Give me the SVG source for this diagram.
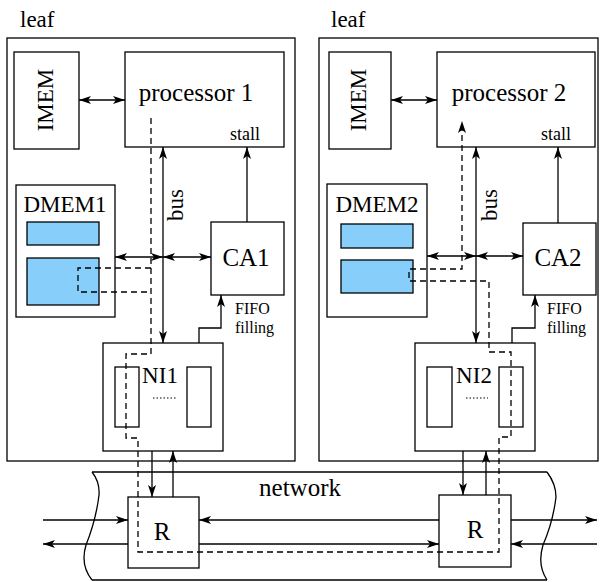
<svg xmlns="http://www.w3.org/2000/svg" width="603" height="582" viewBox="0 0 603 582" font-family="'Liberation Serif', 'DejaVu Serif', serif">
<style>
text{font-family:'Liberation Serif','DejaVu Serif',serif;fill:#000}
.box{fill:#fff;stroke:#000;stroke-width:1.3}
.mem{fill:#87cefa;stroke:#000;stroke-width:1.3}
.ln{fill:none;stroke:#000;stroke-width:1.3}
.dash{fill:none;stroke:#000;stroke-width:1.3;stroke-dasharray:6,4}
.dots{fill:none;stroke:#000;stroke-width:1;stroke-dasharray:1.5,2}
.big{font-size:25px}
.mid{font-size:23px}
.sm{font-size:18px}
.xs{font-size:16px}
</style>
<defs>
<marker id="ah" viewBox="0 0 12 8" refX="12" refY="4" markerWidth="12" markerHeight="8" orient="auto-start-reverse" markerUnits="userSpaceOnUse">
<path d="M0,0 L12,4 L0,8 L3,4 z" fill="#000"/>
</marker>
</defs>

<g id="leaf1">
<rect class="box" x="7" y="38" width="288" height="423"/>
<text x="20" y="27" class="mid">leaf</text>
</g>
<g id="leaf2">
<rect class="box" x="319" y="38" width="279" height="423"/>
<text x="331" y="27" class="mid">leaf</text>
</g>

<g id="network">
<path class="ln" d="M92,472 H547 M92,580 H547"/>
<path class="ln" d="M92,472 Q100,482 99,495 Q96,520 86,545 Q80,565 92,580"/>
<path class="ln" d="M547,472 Q556,484 556,497 Q553,522 543,545 Q537,565 547,580"/>
<text x="300" y="496" class="big" text-anchor="middle">network</text>
</g>

<g id="imem1">
<rect class="box" x="14" y="52" width="65" height="97"/>
<text transform="translate(53,100) rotate(-90)" class="mid" text-anchor="middle">IMEM</text>
</g>
<g id="processor1">
<rect class="box" x="125" y="52" width="159" height="95"/>
<text x="196" y="101" class="big" text-anchor="middle">processor 1</text>
<text x="245" y="140" class="sm" text-anchor="middle">stall</text>
</g>
<g id="dmem1">
<rect class="box" x="16" y="185" width="99" height="132"/>
<text x="65" y="212" class="mid" text-anchor="middle">DMEM1</text>
<rect class="mem" x="27" y="222" width="72" height="23"/>
<rect class="mem" x="27" y="258" width="72" height="47"/>
</g>
<g id="ca1">
<rect class="box" x="211" y="222" width="73" height="73"/>
<text x="246" y="266" class="big" text-anchor="middle">CA1</text>
</g>
<g id="ni1">
<rect class="box" x="103" y="343" width="120" height="108"/>
<rect class="box" x="115" y="367" width="24" height="60"/>
<rect class="box" x="187" y="367" width="24" height="60"/>
<text x="160" y="383" class="mid" text-anchor="middle">NI1</text>
<path class="dots" d="M153,398 H176"/>
</g>
<g id="r1">
<rect class="box" x="128" y="497" width="71" height="71"/>
<text x="162" y="540" class="big" text-anchor="middle">R</text>
</g>

<g id="imem2">
<rect class="box" x="329" y="52" width="62" height="97"/>
<text transform="translate(366,100) rotate(-90)" class="mid" text-anchor="middle">IMEM</text>
</g>
<g id="processor2">
<rect class="box" x="437" y="52" width="158" height="95"/>
<text x="509" y="101" class="big" text-anchor="middle">processor 2</text>
<text x="556" y="140" class="sm" text-anchor="middle">stall</text>
</g>
<g id="dmem2">
<rect class="box" x="327" y="184" width="100" height="133"/>
<text x="377" y="212" class="mid" text-anchor="middle">DMEM2</text>
<rect class="mem" x="341" y="224" width="72" height="24"/>
<rect class="mem" x="341" y="260" width="72" height="33"/>
</g>
<g id="ca2">
<rect class="box" x="523" y="223" width="73" height="72"/>
<text x="558" y="266" class="big" text-anchor="middle">CA2</text>
</g>
<g id="ni2">
<rect class="box" x="415" y="343" width="120" height="108"/>
<rect class="box" x="427" y="367" width="25" height="60"/>
<rect class="box" x="499" y="367" width="24" height="60"/>
<text x="474" y="383" class="mid" text-anchor="middle">NI2</text>
<path class="dots" d="M466,398 H488"/>
</g>
<g id="r2">
<rect class="box" x="439" y="495" width="72" height="72"/>
<text x="475" y="538" class="big" text-anchor="middle">R</text>
</g>

<g id="connectors">
<path class="ln" d="M79,100 H125" marker-start="url(#ah)" marker-end="url(#ah)"/>
<path class="ln" d="M163,147 V343" marker-start="url(#ah)" marker-end="url(#ah)"/>
<text transform="translate(183,205) rotate(-90)" class="mid" text-anchor="middle">bus</text>
<path class="ln" d="M247,222 V147" marker-end="url(#ah)"/>
<path class="ln" d="M115,257 H163" marker-start="url(#ah)" marker-end="url(#ah)"/>
<path class="ln" d="M163,257 H211" marker-start="url(#ah)" marker-end="url(#ah)"/>
<path class="ln" d="M199,343 V328 H221 V295" marker-end="url(#ah)"/>
<text x="235" y="314" class="xs">FIFO</text>
<text x="235" y="333" class="xs">filling</text>
<path class="ln" d="M152,451 V497" marker-end="url(#ah)"/>
<path class="ln" d="M173,497 V451" marker-end="url(#ah)"/>

<path class="ln" d="M391,100 H437" marker-start="url(#ah)" marker-end="url(#ah)"/>
<path class="ln" d="M476,147 V343" marker-start="url(#ah)" marker-end="url(#ah)"/>
<text transform="translate(497,205) rotate(-90)" class="mid" text-anchor="middle">bus</text>
<path class="ln" d="M558,223 V147" marker-end="url(#ah)"/>
<path class="ln" d="M427,256 H476" marker-start="url(#ah)" marker-end="url(#ah)"/>
<path class="ln" d="M476,256 H523" marker-start="url(#ah)" marker-end="url(#ah)"/>
<path class="ln" d="M512,343 V328 H535 V295" marker-end="url(#ah)"/>
<text x="547" y="314" class="xs">FIFO</text>
<text x="547" y="333" class="xs">filling</text>
<path class="ln" d="M463,451 V495" marker-end="url(#ah)"/>
<path class="ln" d="M486,495 V451" marker-end="url(#ah)"/>

<path class="ln" d="M43,520 H128" marker-end="url(#ah)"/>
<path class="ln" d="M439,520 H199" marker-end="url(#ah)"/>
<path class="ln" d="M511,520 H597" marker-end="url(#ah)"/>
<path class="ln" d="M128,544 H43" marker-end="url(#ah)"/>
<path class="ln" d="M199,544 H439" marker-end="url(#ah)"/>
<path class="ln" d="M597,544 H511" marker-end="url(#ah)"/>

<path class="dash" d="M151,118 V354 H126 V438 H138 V552 H499 V437 H511 V352 H489 V281 H409 V269 H462 V121" marker-end="url(#ah)"/>
<path class="dash" d="M151,268 H78 V292 H151"/>
</g>
</svg>
